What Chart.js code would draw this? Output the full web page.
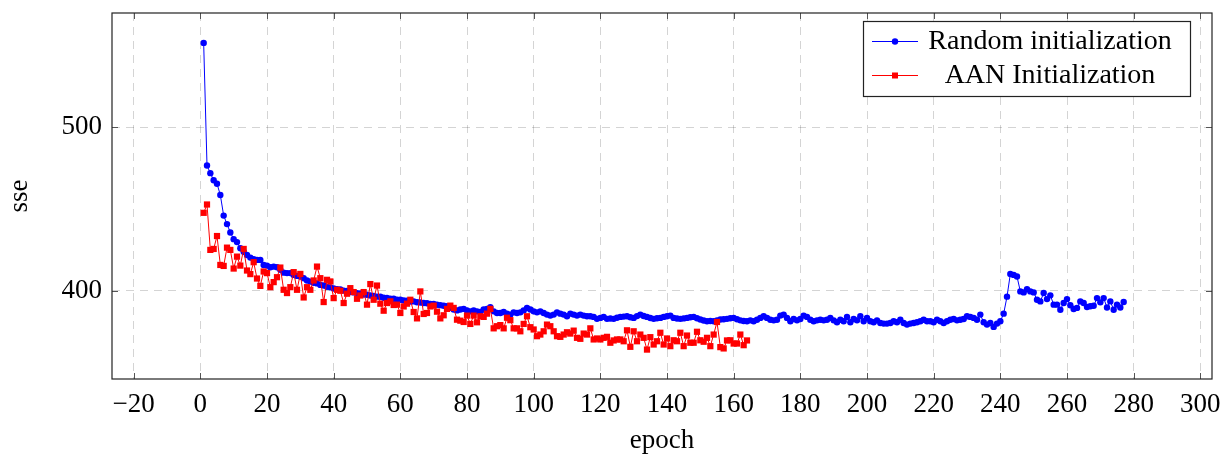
<!DOCTYPE html>
<html>
<head>
<meta charset="utf-8">
<script src="https://cdn.jsdelivr.net/npm/chart.js@4.4.0/dist/chart.umd.min.js"></script>
<style>
    html, body { margin: 0; padding: 0; background: #fff; }
    #chartContainer { width: 1231px; height: 454px; }
</style>
</head>
<body>
<div id="chartContainer"><canvas id="lineChart" width="1231" height="454"></canvas></div>
<script>
// sse per epoch
const randomInit = [
    551.7, 476.7, 472.0, 467.6, 465.5, 458.6, 446.0, 440.8, 435.7, 431.6,
    429.8, 426.0, 423.9, 421.9, 420.3, 419.3, 418.9, 418.9, 415.8, 415.4,
    414.4, 414.8, 414.4, 412.8, 411.1, 410.8, 410.8, 409.7, 409.1, 408.7,
    407.7, 406.3, 405.6, 404.9, 404.5, 403.6, 403.2, 402.4, 402.1, 401.4,
    401.0, 400.8, 400.1, 399.9, 399.2, 399.0, 398.5, 398.3, 397.7, 397.6,
    397.1, 396.9, 396.4, 396.3, 395.7, 395.6, 395.2, 395.1, 394.6, 394.5,
    394.0, 393.9, 393.4, 393.5, 393.0, 392.8, 392.5, 392.4, 391.9, 392.0,
    391.4, 391.2, 390.8, 390.5, 389.5, 388.5, 388.0, 388.5, 388.9, 388.0,
    387.4, 388.0, 387.4, 387.0, 388.5, 388.9, 389.9, 387.4, 386.4, 386.4,
    387.0, 386.0, 385.4, 386.8, 386.4, 386.8, 388.0, 389.5, 388.5, 387.4,
    386.8, 387.4, 386.4, 385.4, 384.8, 385.4, 386.8, 386.0, 385.4, 384.4,
    386.0, 385.4, 384.8, 385.4, 384.8, 384.4, 384.4, 384.0, 382.8, 383.4,
    384.0, 382.8, 383.0, 382.8, 383.5, 384.0, 384.2, 384.4, 383.8, 383.4,
    384.5, 385.4, 384.6, 384.0, 383.3, 382.8, 383.2, 383.4, 384.0, 384.4,
    384.8, 383.4, 383.0, 382.8, 383.1, 383.4, 383.8, 384.0, 383.2, 382.4,
    381.8, 381.3, 381.5, 381.3, 381.9, 382.4, 382.6, 382.8, 383.2, 383.4,
    382.6, 381.9, 381.5, 381.3, 381.9, 381.3, 382.3, 383.4, 384.4, 383.4,
    382.3, 381.9, 382.3, 384.8, 385.4, 383.4, 381.3, 382.7, 381.9, 382.7,
    384.8, 384.0, 382.3, 381.3, 381.9, 382.3, 381.9, 382.3, 383.4, 381.9,
    380.7, 382.3, 381.3, 384.0, 380.7, 382.7, 381.9, 384.4, 381.3, 383.4,
    381.3, 380.7, 381.9, 380.3, 379.9, 379.9, 380.3, 381.3, 380.7, 382.3,
    380.3, 379.3, 379.9, 380.3, 380.7, 381.3, 382.3, 381.3, 381.3, 380.7,
    382.3, 381.3, 380.3, 381.3, 382.3, 382.7, 381.9, 382.3, 382.7, 384.4,
    384.0, 383.4, 382.3, 385.4, 380.7, 379.3, 380.3, 377.9, 379.9, 381.3,
    386.0, 396.4, 410.3, 409.7, 408.7, 399.6, 399.0, 401.0, 399.6, 399.0,
    394.5, 393.5, 398.6, 394.9, 397.2, 391.5, 391.5, 388.4, 392.5, 394.9,
    391.1, 388.8, 389.5, 393.5, 392.5, 390.1, 390.5, 390.8, 395.5, 392.9,
    395.5, 389.8, 393.5, 388.4, 391.5, 389.8, 393.1
];

const aanInit = [
    447.7, 452.8, 425.0, 425.6, 433.5, 415.8, 415.2, 426.4, 425.0, 413.6,
    420.9, 415.4, 425.6, 412.4, 410.2, 417.5, 407.5, 403.0, 411.8, 410.8,
    402.2, 405.3, 408.3, 414.2, 400.6, 398.6, 402.2, 411.4, 400.6, 410.3,
    395.9, 402.2, 400.6, 406.3, 414.8, 407.7, 393.1, 406.7, 405.7, 395.5,
    400.6, 400.0, 392.5, 398.2, 401.6, 399.2, 395.1, 397.1, 399.2, 391.5,
    404.1, 394.5, 403.2, 392.1, 387.8, 392.5, 393.5, 391.3, 391.5, 386.4,
    390.4, 392.1, 394.5, 387.0, 383.1, 399.6, 385.8, 386.4, 390.4, 390.9,
    387.2, 383.1, 385.0, 388.9, 390.9, 389.5, 382.3, 381.7, 380.9, 384.8,
    379.7, 384.8, 380.7, 384.4, 384.0, 386.0, 388.9, 377.0, 378.3, 379.0,
    377.0, 383.5, 382.0, 377.0, 377.0, 375.2, 379.7, 384.4, 377.7, 376.3,
    372.2, 373.2, 375.2, 379.3, 378.3, 375.2, 372.2, 371.8, 373.2, 374.6,
    373.8, 375.6, 371.2, 370.6, 373.8, 373.2, 377.0, 370.2, 370.8, 370.2,
    371.2, 371.8, 368.2, 369.6, 370.2, 370.2, 369.1, 375.8, 365.7, 375.2,
    369.1, 373.2, 371.2, 364.0, 371.6, 367.1, 369.1, 374.3, 367.1, 370.8,
    366.1, 369.7, 369.1, 374.3, 366.1, 372.6, 368.2, 368.2, 374.9, 369.7,
    368.8, 371.2, 366.1, 373.2, 380.9, 365.5, 364.7, 369.6, 369.7, 367.7,
    367.7, 373.2, 366.7, 369.6
];

const seriesLabels = ['Random initialization', 'AAN Initialization'];
const xTicks = [-20, 0, 20, 40, 60, 80, 100, 120, 140, 160, 180, 200, 220, 240, 260, 280, 300];
const yTicks = [400, 500];

const FONT = '"Liberation Serif", "DejaVu Serif", serif';

// epoch i+1 for each value
function toPoints(values) {
    return values.map((v, i) => ({ x: i + 1, y: v }));
}

// pgfplots style frame + inward ticks on all four sides, legend box
const framePlugin = {
    id: 'frame',
    afterDatasetsDraw(chart) {
        const { ctx, chartArea: a, scales } = chart;
        ctx.save();
        ctx.strokeStyle = '#555';
        ctx.lineWidth = 1;
        const len = 6;
        ctx.beginPath();
        xTicks.forEach((t) => {
            const px = Math.round(scales.x.getPixelForValue(t)) + 0.5;
            ctx.moveTo(px, a.bottom); ctx.lineTo(px, a.bottom - len);
            ctx.moveTo(px, a.top); ctx.lineTo(px, a.top + len);
        });
        yTicks.forEach((t) => {
            const py = Math.round(scales.y.getPixelForValue(t)) + 0.5;
            ctx.moveTo(a.left, py); ctx.lineTo(a.left + len, py);
            ctx.moveTo(a.right, py); ctx.lineTo(a.right - len, py);
        });
        ctx.stroke();
        ctx.strokeStyle = '#222';
        ctx.lineWidth = 1.2;
        ctx.strokeRect(a.left, a.top, a.right - a.left, a.bottom - a.top);
        ctx.restore();
    },
    afterDraw(chart) {
        const { ctx } = chart;
        const box = { x: 863.5, y: 21.5, w: 327, h: 75 };
        ctx.save();
        ctx.fillStyle = '#fff';
        ctx.fillRect(box.x, box.y, box.w, box.h);
        ctx.strokeStyle = '#222';
        ctx.lineWidth = 1.2;
        ctx.strokeRect(box.x, box.y, box.w, box.h);

        const rows = [
            { y: 41, color: '#0000ff', mark: 'circle' },
            { y: 75, color: '#ff0000', mark: 'rect' },
        ];
        rows.forEach((r, i) => {
            ctx.strokeStyle = r.color;
            ctx.lineWidth = 1;
            ctx.beginPath();
            ctx.moveTo(872, r.y + 0.5);
            ctx.lineTo(918, r.y + 0.5);
            ctx.stroke();
            ctx.fillStyle = r.color;
            if (r.mark === 'circle') {
                ctx.beginPath();
                ctx.arc(895, r.y + 0.5, 3.2, 0, Math.PI * 2);
                ctx.fill();
            } else {
                ctx.fillRect(892, r.y - 2.5, 6, 6);
            }
            ctx.fillStyle = '#000';
            ctx.font = '28px ' + FONT;
            ctx.textAlign = 'center';
            ctx.textBaseline = 'middle';
            ctx.fillText(seriesLabels[i], 1050, r.y + 1);
        });
        ctx.restore();
    },
};

const lineChartCanvas = document.getElementById('lineChart').getContext('2d');

const lineChart = new Chart(lineChartCanvas, {
    type: 'line',
    data: {
        datasets: [
            {
                label: seriesLabels[0],
                data: toPoints(randomInit),
                borderColor: '#0000ff',
                backgroundColor: '#0000ff',
                borderWidth: 1,
                pointStyle: 'circle',
                pointRadius: 3.2,
                pointBorderWidth: 0,
                tension: 0,
                fill: false,
                order: 2,
            },
            {
                label: seriesLabels[1],
                data: toPoints(aanInit),
                borderColor: '#ff0000',
                backgroundColor: '#ff0000',
                borderWidth: 1,
                pointStyle: 'rect',
                pointRadius: 4.4,
                pointBorderWidth: 0,
                tension: 0,
                fill: false,
                order: 1,
            },
        ],
    },
    options: {
        responsive: false,
        animation: false,
        events: [],
        layout: { padding: { left: 0, right: 19, top: 13, bottom: 0 } },
        plugins: {
            legend: { display: false },
            tooltip: { enabled: false },
        },
        scales: {
            x: {
                type: 'linear',
                min: -26.5,
                max: 303.5,
                afterFit: (scale) => {
                    scale.height = 75;
                    scale.paddingLeft = 0;
                    scale.paddingRight = 0;
                },
                afterBuildTicks: (scale) => { scale.ticks = xTicks.map((v) => ({ value: v })); },
                ticks: {
                    color: '#000',
                    padding: 10,
                    font: { family: FONT, size: 27 },
                    maxRotation: 0,
                    autoSkip: false,
                    callback: (v) => (v < 0 ? '\u2212' + Math.abs(v) : String(v)),
                },
                grid: { color: 'rgba(0,0,0,0.17)', lineWidth: 1, drawTicks: false },
                border: { display: false, dash: [8, 6] },
                title: {
                    display: true,
                    text: 'epoch',
                    color: '#000',
                    font: { family: FONT, size: 27, lineHeight: 1 },
                    padding: { top: 0, bottom: 0 },
                },
            },
            y: {
                type: 'linear',
                min: 346,
                max: 570,
                afterFit: (scale) => {
                    scale.width = 112;
                    scale.paddingTop = 0;
                    scale.paddingBottom = 0;
                },
                afterBuildTicks: (scale) => { scale.ticks = yTicks.map((v) => ({ value: v })); },
                ticks: {
                    color: '#000',
                    padding: 10,
                    font: { family: FONT, size: 27 },
                },
                grid: { color: 'rgba(0,0,0,0.17)', lineWidth: 1, drawTicks: false },
                border: { display: false, dash: [8, 6] },
                title: {
                    display: true,
                    text: 'sse',
                    color: '#000',
                    font: { family: FONT, size: 27, lineHeight: 1 },
                    padding: { top: 6, bottom: 0 },
                },
            },
        },
    },
    plugins: [framePlugin],
});
</script>
</body>
</html>
